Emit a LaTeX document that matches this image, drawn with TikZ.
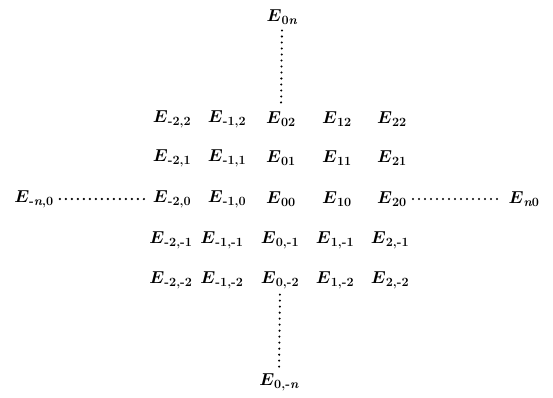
\documentclass[tikz,border=0pt]{standalone}
\usepackage{amsmath}
\usepackage{tikz}
\usetikzlibrary{positioning}

\tikzset{
  ent/.style={inner sep=1pt,font=\fontsize{18}{20}\selectfont},
  dots/.style={line width=2.3pt,line cap=round,dash pattern=on 0pt off 6pt,shorten >=5pt,shorten <=5pt}
}
\newcommand{\ee}[1]{$\boldsymbol{E}_{\text{\bfseries #1}}$}

\begin{document}
\begin{tikzpicture}[x=1pt,y=-1pt]
        \useasboundingbox (0,0) rectangle (553,398);

        % grid of entries
        \node[ent] (Em22) at (172,119) {\ee{-2,2}};
        \node[ent] (Em12) at (227,119) {\ee{-1,2}};
        \node[ent] (E02)  at (281,119) {\ee{02}};
        \node[ent] (E12)  at (337,119) {\ee{12}};
        \node[ent] (E22)  at (392,119) {\ee{22}};

        \node[ent] (Em21) at (172,158) {\ee{-2,1}};
        \node[ent] (Em11) at (227,158) {\ee{-1,1}};
        \node[ent] (E01)  at (281,158) {\ee{01}};
        \node[ent] (E11)  at (337,158) {\ee{11}};
        \node[ent] (E21)  at (392,158) {\ee{21}};

        \node[ent] (Em20) at (172,199) {\ee{-2,0}};
        \node[ent] (Em10) at (227,199) {\ee{-1,0}};
        \node[ent] (E00)  at (281,199) {\ee{00}};
        \node[ent] (E10)  at (337,199) {\ee{10}};
        \node[ent] (E20)  at (392,199) {\ee{20}};

        \node[ent] (Em2m1) at (171,240) {\ee{-2,-1}};
        \node[ent] (Em1m1) at (222,240) {\ee{-1,-1}};
        \node[ent] (E0m1)  at (280,240) {\ee{0,-1}};
        \node[ent] (E1m1)  at (335,240) {\ee{1,-1}};
        \node[ent] (E2m1)  at (390,240) {\ee{2,-1}};

        \node[ent] (Em2m2) at (171,280) {\ee{-2,-2}};
        \node[ent] (Em1m2) at (222,280) {\ee{-1,-2}};
        \node[ent] (E0m2)  at (280,280) {\ee{0,-2}};
        \node[ent] (E1m2)  at (335,280) {\ee{1,-2}};
        \node[ent] (E2m2)  at (390,280) {\ee{2,-2}};

        % far ends
        \node[ent] (Etop)   at (282,17)  {\ee{0\itshape n}};
        \node[ent] (Ebot)   at (279,382) {\ee{0,-\itshape n}};
        \node[ent] (Eleft)  at (34,199)  {\ee{-\itshape n\upshape,0}};
        \node[ent] (Eright) at (524,199) {\ee{\itshape n\upshape 0}};

        \draw[dots] (Etop.south) -- (E02.north);
        \draw[dots] (E0m2.south) -- (Ebot.north);
        \draw[dots] (Eleft.east) -- (Em20.west);
        \draw[dots] (E20.east) -- (Eright.west);
    \end{tikzpicture}
\end{document}
